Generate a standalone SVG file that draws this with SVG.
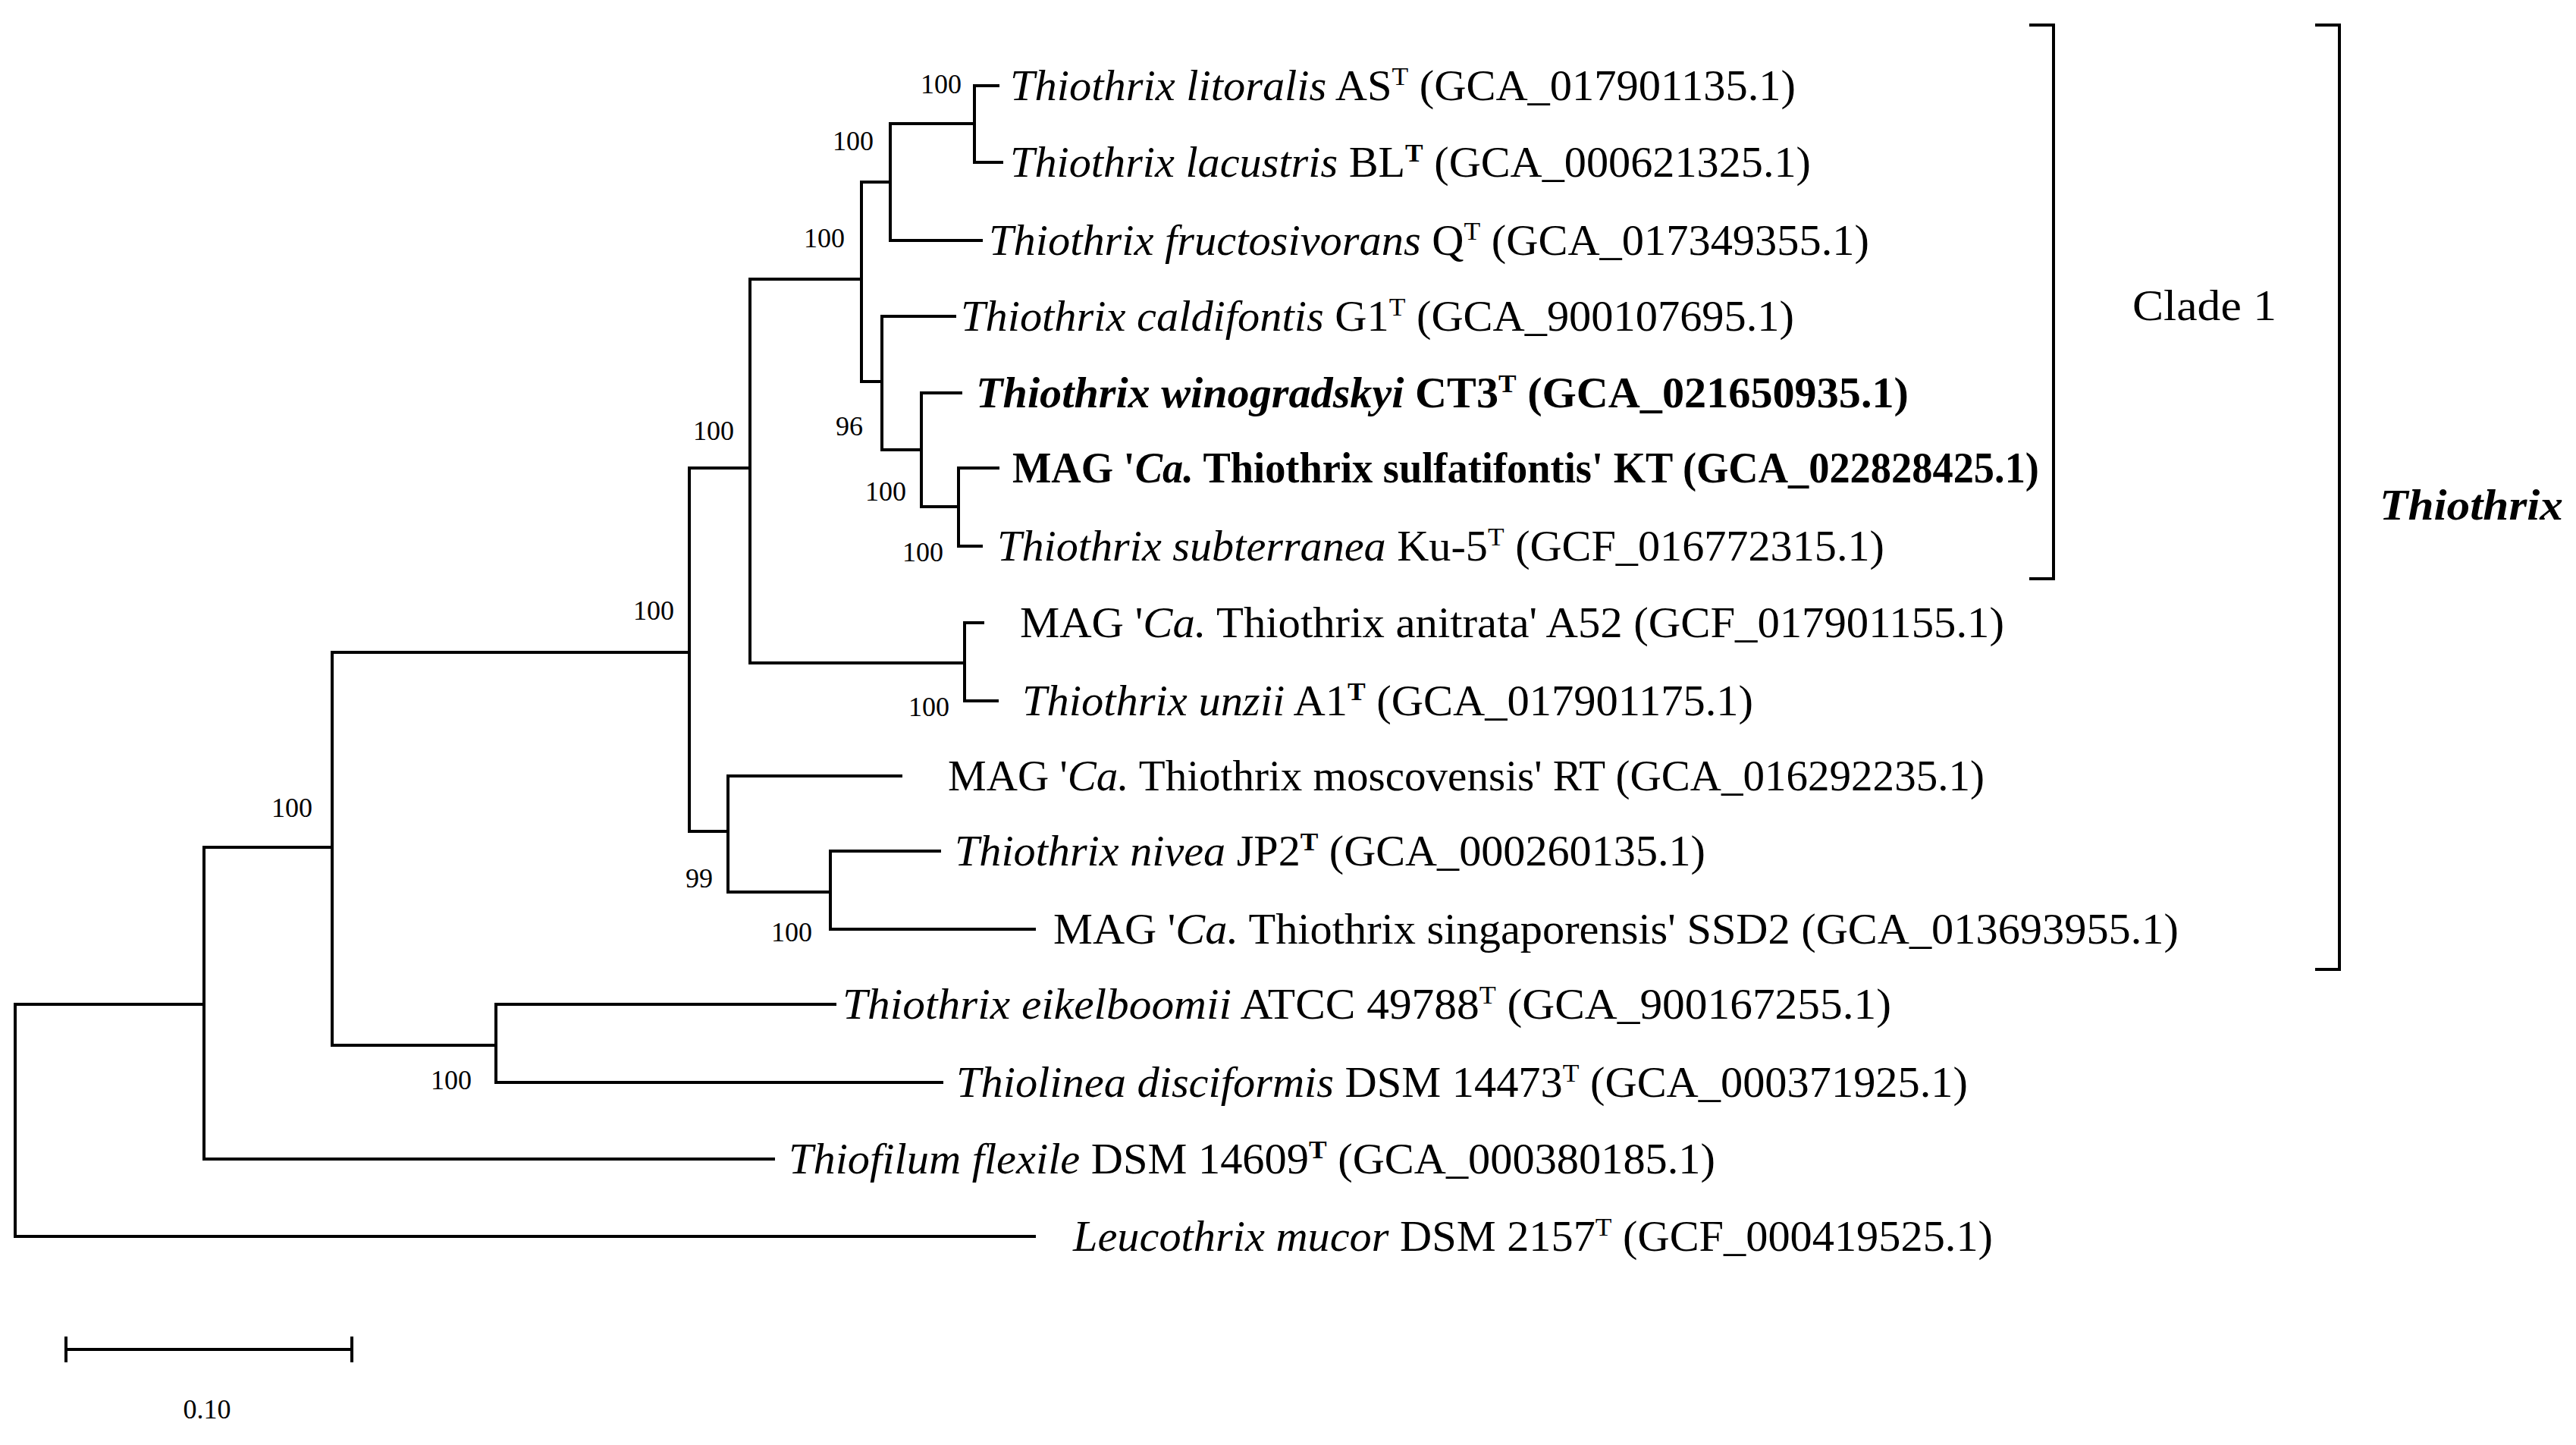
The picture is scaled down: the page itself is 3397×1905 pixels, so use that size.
<svg xmlns="http://www.w3.org/2000/svg" width="3397" height="1905" viewBox="0 0 3397 1905">
<style>
text{font-family:"Liberation Serif","Times New Roman",serif;fill:#000}
.t{font-size:56px}
.b{font-size:36px}
.s{font-size:34px;baseline-shift:60%}
.i{font-style:italic}
.bd{font-weight:bold}
#edges path{fill:none;stroke:#000;stroke-width:4;stroke-linecap:square}
</style>
<rect width="3397" height="1905" fill="#fff"/>
<g id="edges">
<path d="M20 1324V1630H1364"/>
<path d="M20 1324H269"/>
<path d="M269 1117V1528H1020"/>
<path d="M269 1117H438V860"/>
<path d="M438 1117V1378H654"/>
<path d="M654 1324V1427H1242M654 1324H1101"/>
<path d="M438 860H909V617H989"/>
<path d="M909 860V1096H960"/>
<path d="M960 1023V1176H1095M960 1023H1188"/>
<path d="M1095 1122V1225H1364M1095 1122H1239"/>
<path d="M989 368V874H1272"/>
<path d="M989 368H1136"/>
<path d="M1272 821V924H1315M1272 821H1296"/>
<path d="M1136 240V503H1163"/>
<path d="M1136 240H1174"/>
<path d="M1174 163V317H1294M1174 163H1285"/>
<path d="M1285 113V214H1321M1285 113H1316"/>
<path d="M1163 417V593H1215M1163 417H1259"/>
<path d="M1215 518V668H1264M1215 518H1267"/>
<path d="M1264 617V720H1294M1264 617H1316"/>
<path d="M87 1779H464M87 1764V1794M464 1764V1794"/>
<path d="M2678 33H2708V763H2678"/>
<path d="M3055 33H3085V1278H3055"/>
</g>
<g id="labels">
<text x="1268" y="123" text-anchor="end" class="b">100</text>
<text x="1152" y="198" text-anchor="end" class="b">100</text>
<text x="1114" y="326" text-anchor="end" class="b">100</text>
<text x="1138" y="574" text-anchor="end" class="b">96</text>
<text x="1195" y="660" text-anchor="end" class="b">100</text>
<text x="1244" y="740" text-anchor="end" class="b">100</text>
<text x="889" y="817" text-anchor="end" class="b">100</text>
<text x="968" y="580" text-anchor="end" class="b">100</text>
<text x="1252" y="944" text-anchor="end" class="b">100</text>
<text x="940" y="1170" text-anchor="end" class="b">99</text>
<text x="1071" y="1241" text-anchor="end" class="b">100</text>
<text x="412" y="1077" text-anchor="end" class="b">100</text>
<text x="622" y="1436" text-anchor="end" class="b">100</text>
<text x="273" y="1870" text-anchor="middle" class="b">0.10</text>
</g>
<g id="n1"><text class="t" x="1332" y="132" textLength="1036" lengthAdjust="spacingAndGlyphs"><tspan class="i">Thiothrix litoralis</tspan> AS<tspan class="s">T</tspan> (GCA_017901135.1)</text></g>
<g id="n2"><text class="t" x="1332" y="233" textLength="1056" lengthAdjust="spacingAndGlyphs"><tspan class="i">Thiothrix lacustris</tspan> BL<tspan class="s bd">T</tspan> (GCA_000621325.1)</text></g>
<g id="n3"><text class="t" x="1304" y="336" textLength="1161" lengthAdjust="spacingAndGlyphs"><tspan class="i">Thiothrix fructosivorans</tspan> Q<tspan class="s">T</tspan> (GCA_017349355.1)</text></g>
<g id="n4"><text class="t" x="1267" y="436" textLength="1099" lengthAdjust="spacingAndGlyphs"><tspan class="i">Thiothrix caldifontis</tspan> G1<tspan class="s">T</tspan> (GCA_900107695.1)</text></g>
<g id="n5"><text class="t bd" x="1287" y="537" textLength="1230" lengthAdjust="spacingAndGlyphs"><tspan class="i">Thiothrix winogradskyi</tspan> CT3<tspan class="s">T</tspan> (GCA_021650935.1)</text></g>
<g id="n6"><text class="t bd" x="1335" y="636" textLength="1354" lengthAdjust="spacingAndGlyphs">MAG '<tspan class="i">Ca.</tspan> Thiothrix sulfatifontis' KT (GCA_022828425.1)</text></g>
<g id="n7"><text class="t" x="1315" y="739" textLength="1170" lengthAdjust="spacingAndGlyphs"><tspan class="i">Thiothrix subterranea</tspan> Ku-5<tspan class="s">T</tspan> (GCF_016772315.1)</text></g>
<g id="n8"><text class="t" x="1345" y="840" textLength="1298" lengthAdjust="spacingAndGlyphs">MAG '<tspan class="i">Ca.</tspan> Thiothrix anitrata' A52 (GCF_017901155.1)</text></g>
<g id="n9"><text class="t" x="1348" y="943" textLength="964" lengthAdjust="spacingAndGlyphs"><tspan class="i">Thiothrix unzii</tspan> A1<tspan class="s bd">T</tspan> (GCA_017901175.1)</text></g>
<g id="n10"><text class="t" x="1250" y="1042" textLength="1367" lengthAdjust="spacingAndGlyphs">MAG '<tspan class="i">Ca.</tspan> Thiothrix moscovensis' RT (GCA_016292235.1)</text></g>
<g id="n11"><text class="t" x="1259" y="1141" textLength="990" lengthAdjust="spacingAndGlyphs"><tspan class="i">Thiothrix nivea</tspan> JP2<tspan class="s bd">T</tspan> (GCA_000260135.1)</text></g>
<g id="n12"><text class="t" x="1389" y="1244" textLength="1484" lengthAdjust="spacingAndGlyphs">MAG '<tspan class="i">Ca.</tspan> Thiothrix singaporensis' SSD2 (GCA_013693955.1)</text></g>
<g id="n13"><text class="t" x="1111" y="1343" textLength="1383" lengthAdjust="spacingAndGlyphs"><tspan class="i">Thiothrix eikelboomii</tspan>  ATCC 49788<tspan class="s">T</tspan> (GCA_900167255.1)</text></g>
<g id="n14"><text class="t" x="1261" y="1446" textLength="1334" lengthAdjust="spacingAndGlyphs"><tspan class="i">Thiolinea disciformis</tspan> DSM 14473<tspan class="s">T</tspan> (GCA_000371925.1)</text></g>
<g id="n15"><text class="t" x="1040" y="1547" textLength="1222" lengthAdjust="spacingAndGlyphs"><tspan class="i">Thiofilum flexile</tspan> DSM 14609<tspan class="s bd">T</tspan> (GCA_000380185.1)</text></g>
<g id="n16"><text class="t" x="1415" y="1649" textLength="1213" lengthAdjust="spacingAndGlyphs"><tspan class="i">Leucothrix mucor</tspan> DSM 2157<tspan class="s">T</tspan> (GCF_000419525.1)</text></g>
<g id="clade1"><text class="t" x="2812" y="422" textLength="190" lengthAdjust="spacingAndGlyphs">Clade 1</text></g>
<g id="thiothrix"><text class="t i bd" x="3138" y="685" textLength="242" lengthAdjust="spacingAndGlyphs">Thiothrix</text></g>
</svg>
